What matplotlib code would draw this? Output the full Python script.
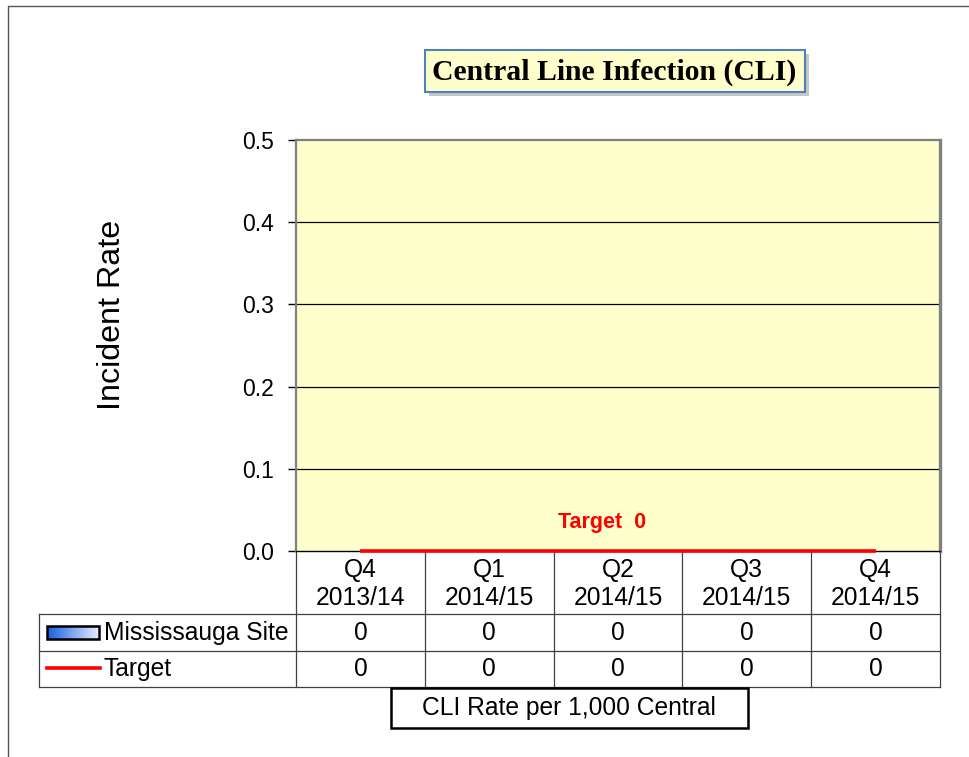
import numpy as np
import matplotlib
matplotlib.use("Agg")
import matplotlib.pyplot as plt
from matplotlib.patches import Rectangle
from matplotlib.colors import LinearSegmentedColormap
from matplotlib.transforms import blended_transform_factory

# ---- data ----
quarters = ["Q4", "Q1", "Q2", "Q3", "Q4"]
years = ["2013/14", "2014/15", "2014/15", "2014/15", "2014/15"]
mississauga = [0, 0, 0, 0, 0]
target = [0, 0, 0, 0, 0]
yticks = [0.0, 0.1, 0.2, 0.3, 0.4, 0.5]
series_names = ["Mississauga Site", "Target"]
title = "Central Line Infection (CLI)"
ylabel = "Incident Rate"
xlabel = "CLI Rate per 1,000 Central"
target_label = "Target  0"

plt.rcParams['font.family'] = ['Liberation Sans', 'DejaVu Sans']

W, H = 970, 757
fig = plt.figure(figsize=(W / 100, H / 100), dpi=100)
fig.patch.set_facecolor("white")

# overlay axes in pixel coordinates
over = fig.add_axes([0, 0, 1, 1], zorder=0)
over.set_xlim(0, W)
over.set_ylim(H, 0)
over.axis("off")
over.patch.set_alpha(0)

# main plot axes
L, R, T, B = 296, 940, 140, 551
ax = fig.add_axes([L / W, 1 - B / H, (R - L) / W, (B - T) / H], zorder=2)
ax.set_facecolor("#FFFFCC")
x = np.arange(len(quarters))
ax.bar(x, mississauga, width=0.6, color="#4F81BD", linewidth=0)
ax.plot(x, target, color="#FF0000", lw=2.6, solid_capstyle="butt", zorder=5, clip_on=False)
ax.set_xlim(-0.5, len(quarters) - 0.5)
ax.set_ylim(0, 0.5)
ax.set_yticks(yticks)
ax.set_yticklabels([f"{v:.1f}" for v in yticks], fontsize=16.5)
ax.tick_params(axis="y", direction="out", length=5.5, width=1, color="black", pad=10.5)
ax.set_xticks([])
for v in yticks[1:-1]:
    ax.axhline(v, color="black", lw=0.9, zorder=1)
for s in ["left", "top"]:
    ax.spines[s].set_color("#808080")
    ax.spines[s].set_linewidth(1.6)
ax.spines["right"].set_color("#808080")
ax.spines["right"].set_linewidth(2.4)
ax.spines["bottom"].set_color("black")
ax.spines["bottom"].set_linewidth(1.0)
ax.text(1.875, 0.035, target_label, color="#FF0000", fontsize=15.5, fontweight="bold",
        ha="center", va="center")

# y label
over.text(112, 315, ylabel, rotation=90, fontsize=23.2, ha="center", va="center")

# outer border
over.plot([8, 8, W + 5], [H + 5, 6, 6], color="#555555", lw=1.0, clip_on=False)

# title box with shadow
over.add_patch(Rectangle((429, 54), 380, 42, facecolor="#9A9A9A", edgecolor="none", alpha=0.55, zorder=1))
over.add_patch(Rectangle((425, 50), 380, 42, facecolor="#FFFFCC", edgecolor="#4F81BD", lw=1.5, zorder=2))
over.text(614, 72, title, fontsize=21.4, fontweight="bold", ha="center", va="center",
          family=["Liberation Serif", "DejaVu Serif"], zorder=3)

# data table
tr = blended_transform_factory(ax.transData, over.transData)
gcol = "#404040"
rows_y = [551, 614, 651, 687]
left_x = 39
edges = np.arange(len(quarters) + 1) - 0.5
for e in edges:
    over.plot([e, e], [551, 687], color=gcol, lw=0.9, transform=tr, clip_on=False)
for yy in rows_y[1:]:
    over.plot([left_x, R], [yy, yy], color=gcol, lw=0.9, clip_on=False)
over.plot([left_x, left_x], [614, 687], color=gcol, lw=0.9, clip_on=False)

fs = 17.7
for i in range(len(quarters)):
    over.text(i, 584, f"{quarters[i]}\n{years[i]}", transform=tr, ha="center", va="center",
              fontsize=fs, linespacing=1.2)
    over.text(i, 633, str(mississauga[i]), transform=tr, ha="center", va="center", fontsize=fs)
    over.text(i, 669, str(target[i]), transform=tr, ha="center", va="center", fontsize=fs)

over.text(104, 633, series_names[0], ha="left", va="center", fontsize=fs)
over.text(104, 669, series_names[1], ha="left", va="center", fontsize=fs)

# legend swatches
cmap = LinearSegmentedColormap.from_list("g", ["#1560E0", "#7FA8F0", "#E4ECFF"])
grad = np.linspace(0, 1, 100).reshape(1, -1)
over.imshow(grad, extent=[47, 99, 639, 626], cmap=cmap, aspect="auto", zorder=3)
over.add_patch(Rectangle((47, 626), 52, 13, facecolor="none", edgecolor="black", lw=1.8, zorder=4))
over.plot([47, 100], [668, 668], color="#FF0000", lw=2.6, zorder=4)
over.set_xlim(0, W)
over.set_ylim(H, 0)

# x label box
over.add_patch(Rectangle((391, 688), 357, 40, facecolor="white", edgecolor="black", lw=1.8, zorder=3))
over.text(569, 708, xlabel, ha="center", va="center", fontsize=fs, zorder=4)

fig.savefig("out.png", dpi=100, facecolor="white")
